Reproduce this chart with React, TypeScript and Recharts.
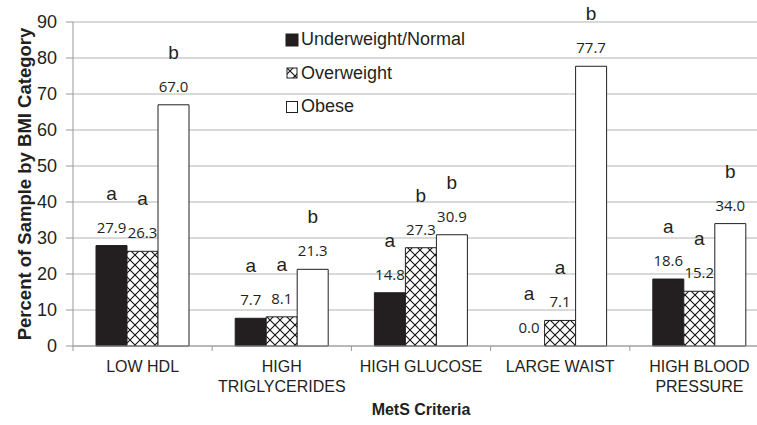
import { Bar, BarChart, CartesianGrid, Cell, LabelList, Legend, XAxis, YAxis } from "recharts";

const CATEGORIES = ["LOW HDL", "HIGH\nTRIGLYCERIDES", "HIGH GLUCOSE", "LARGE WAIST", "HIGH BLOOD\nPRESSURE"];
const NORMAL = [27.9, 7.7, 14.8, 0.0, 18.6];
const OVERWEIGHT = [26.3, 8.1, 27.3, 7.1, 15.2];
const OBESE = [67.0, 21.3, 30.9, 77.7, 34.0];
const NORMAL_LETTERS = ["a", "a", "a", "a", "a"];
const OVERWEIGHT_LETTERS = ["a", "a", "b", "a", "a"];
const OBESE_LETTERS = ["b", "b", "b", "b", "b"];
const Y_TICKS = [0, 10, 20, 30, 40, 50, 60, 70, 80, 90];

const SANS = "'Liberation Sans', Arial, sans-serif";
const NUM_FONT = "'Open Sans', 'Noto Sans', sans-serif";
const TEXT = "#231f20";
const GRID = "#b3b3b3";
const DARK = "#231f20";

const CHART_W = 780;
const PLOT_LEFT = 73;
const PLOT_RIGHT = 769;
const BAND = (PLOT_RIGHT - PLOT_LEFT) / CATEGORIES.length;

const data = CATEGORIES.map((c, i) => ({
  criteria: c,
  normal: NORMAL[i],
  overweight: OVERWEIGHT[i],
  obese: OBESE[i],
}));

const LEGEND_ITEMS = [
  { name: "Underweight/Normal", fill: DARK, size: 12 },
  { name: "Overweight", fill: "url(#crosshatch)", size: 10 },
  { name: "Obese", fill: "#fff", size: 11 },
];

function makeLabel(letters: string[]) {
  return (props: any) => {
    const { x, y, width, height, value, index } = props;
    const cx = Number(x) + Number(width) / 2;
    // zero bars are drawn with a 1px min size; anchor their labels at the baseline
    const top = Number(value) === 0 ? Number(y) + Number(height) : Number(y);
    return (
      <g>
        <text x={cx} y={top - 13} textAnchor="middle" fontFamily={NUM_FONT} fontSize={15} fill={TEXT}>
          {Number(value).toFixed(1)}
        </text>
        <text x={cx} y={top - 46} textAnchor="middle" fontFamily={SANS} fontSize={19} fill={TEXT}>
          {letters[index]}
        </text>
      </g>
    );
  };
}

function CategoryTick(props: any) {
  const { x, y, payload } = props;
  const lines = String(payload.value).split("\n");
  return (
    <g>
      <line x1={x - BAND / 2} x2={x - BAND / 2} y1={y - 8} y2={y - 3} stroke="#999" />
      <text x={x} y={y + 18} textAnchor="middle" fontFamily={SANS} fontSize={16} fill={TEXT}>
        {lines.map((l, i) => (
          <tspan key={i} x={x} dy={i === 0 ? 0 : 20}>
            {l}
          </tspan>
        ))}
      </text>
    </g>
  );
}

function YTitle(props: any) {
  const vb = props.viewBox || {};
  const cy = (vb.y ?? 22) + (vb.height ?? 324) / 2;
  const cx = 31;
  return (
    <text
      x={cx}
      y={cy}
      transform={`rotate(-90, ${cx}, ${cy})`}
      textAnchor="middle"
      fontFamily={SANS}
      fontWeight="bold"
      fontSize={18.5}
      fill={TEXT}
    >
      Percent of Sample by BMI Category
    </text>
  );
}

function XTitle(props: any) {
  const vb = props.viewBox || {};
  const cx = (vb.x ?? PLOT_LEFT) + (vb.width ?? 696) / 2;
  return (
    <text x={cx} y={415} textAnchor="middle" fontFamily={SANS} fontWeight="bold" fontSize={16} fill={TEXT}>
      MetS Criteria
    </text>
  );
}

function LegendBox() {
  return (
    <div style={{ fontFamily: SANS, fontSize: 18, color: TEXT }}>
      {LEGEND_ITEMS.map((item) => (
        <div key={item.name} style={{ display: "flex", alignItems: "center", height: 33.5 }}>
          <svg width={15} height={14} style={{ marginRight: 1 }}>
            <rect
              x={1 + (12 - item.size) / 2}
              y={1 + (12 - item.size) / 2}
              width={item.size}
              height={item.size}
              fill={item.fill}
              stroke={DARK}
              strokeWidth={1}
            />
          </svg>
          <span>{item.name}</span>
        </div>
      ))}
    </div>
  );
}

export default function App() {
  return (
    <div
      style={{
        position: "fixed",
        left: 0,
        top: 0,
        width: 757,
        height: 425,
        overflow: "hidden",
        background: "#fff",
      }}
    >
      <svg width={0} height={0} style={{ position: "absolute" }}>
        <defs>
          <pattern id="crosshatch" width={10} height={10} patternUnits="userSpaceOnUse">
            <rect width={10} height={10} fill="#fff" />
            <path d="M0,0 L10,10 M10,0 L0,10" stroke="#111" strokeWidth={1.1} />
          </pattern>
        </defs>
      </svg>
      <BarChart
        width={CHART_W}
        height={425}
        data={data}
        margin={{ top: 22, right: CHART_W - PLOT_RIGHT, bottom: 0, left: 0 }}
        barGap={0}
      >
        <CartesianGrid vertical={false} stroke={GRID} />
        <XAxis
          dataKey="criteria"
          height={79}
          interval={0}
          axisLine={{ stroke: "#999" }}
          tickLine={false}
          tick={<CategoryTick />}
          label={<XTitle />}
        />
        <YAxis
          width={PLOT_LEFT}
          domain={[0, 90]}
          ticks={Y_TICKS}
          interval={0}
          axisLine={{ stroke: "#999" }}
          tickLine={{ stroke: "#999" }}
          tickSize={7}
          tickMargin={9}
          tick={{ fontFamily: SANS, fontSize: 18, fill: TEXT }}
          label={<YTitle />}
        />
        <Legend
          layout="vertical"
          align="center"
          verticalAlign="middle"
          wrapperStyle={{ top: 23, left: 285, width: 200, height: 100 }}
          content={<LegendBox />}
        />
        <Bar
          dataKey="normal"
          name="Underweight/Normal"
          barSize={31}
          minPointSize={1}
          fill={DARK}
          stroke={DARK}
          isAnimationActive={false}
        >
          {NORMAL.map((v, i) => (
            <Cell key={i} fill={v === 0 ? "none" : DARK} stroke={v === 0 ? "none" : DARK} />
          ))}
          <LabelList dataKey="normal" content={makeLabel(NORMAL_LETTERS)} />
        </Bar>
        <Bar
          dataKey="overweight"
          name="Overweight"
          barSize={31}
          fill="url(#crosshatch)"
          stroke={DARK}
          isAnimationActive={false}
        >
          <LabelList dataKey="overweight" content={makeLabel(OVERWEIGHT_LETTERS)} />
        </Bar>
        <Bar dataKey="obese" name="Obese" barSize={31} fill="#fff" stroke={DARK} isAnimationActive={false}>
          <LabelList dataKey="obese" content={makeLabel(OBESE_LETTERS)} />
        </Bar>
      </BarChart>
    </div>
  );
}
